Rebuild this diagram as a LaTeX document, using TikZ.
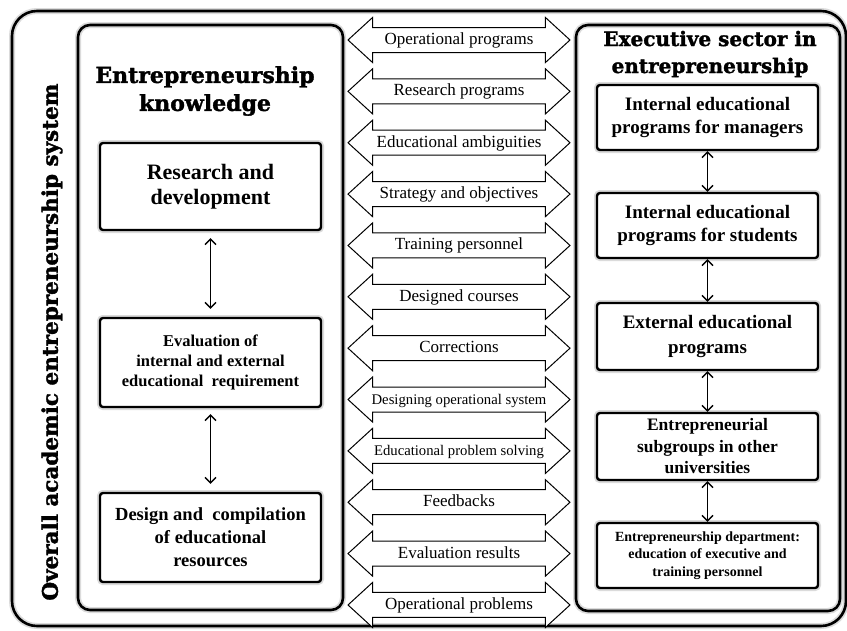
\documentclass[tikz,border=0pt]{standalone}
\usepackage{fontspec}
\setmainfont{Liberation Serif}
\newfontfamily\slabfont[BoldFeatures={FakeBold=1.6}]{DejaVu Serif}
\usetikzlibrary{arrows.meta,shapes.arrows}

\tikzset{
  frame/.style={draw=black, line width=2.6pt, rounded corners=#1,
    preaction={draw=black!14, line width=6pt}},
  stepbox/.style={draw=black, line width=2.4pt, rounded corners=3pt, fill=white,
    minimum width=221pt, align=center,
    preaction={draw=black!14, line width=6pt}},
  flow/.style={double arrow, draw=black, line width=1pt, fill=white,
    minimum height=222pt, double arrow head extend=10pt,
    double arrow tip angle=85, inner xsep=0pt, inner ysep=4.5pt,
    text height=12pt, text depth=3pt},
  link/.style={line width=1.4pt, {Straight Barb[length=5.5pt,width=11pt]}-{Straight Barb[length=5.5pt,width=11pt]}}
}

\begin{document}
\begin{tikzpicture}[x=1pt, y=-1pt]
    \useasboundingbox (0,0) rectangle (847,630);
    \fill[white] (0,0) rectangle (847,630);

    \draw[frame=25pt] (12,11) rectangle (846,626);
    \draw[frame=12pt] (78,25) rectangle (343,610);
    \draw[frame=12pt] (576,25) rectangle (840,611);

    \node[rotate=90, font=\slabfont\bfseries\fontsize{21.5}{24}\selectfont] (system) at (52,342)
        {Overall academic entrepreneurship system};

    \node[align=center, font=\slabfont\bfseries\fontsize{22}{28}\selectfont] (knowtitle) at (205,91)
        {Entrepreneurship\\knowledge};
    \node[align=center, font=\slabfont\bfseries\fontsize{20}{27}\selectfont] (exectitle) at (710,54)
        {Executive sector in\\entrepreneurship};

    \node[stepbox, minimum height=87pt, font=\bfseries\fontsize{22}{25}\selectfont] (research) at (210.5,186.5)
        {Research and\\development};
    \node[stepbox, minimum height=89pt, font=\bfseries\fontsize{16.5}{20}\selectfont] (evaluation) at (210.5,362.5)
        {Evaluation of\\internal and external\\educational\ \ requirement};
    \node[stepbox, minimum height=89pt, font=\bfseries\fontsize{18.5}{23}\selectfont] (design) at (210.5,537.5)
        {Design and\ \ compilation\\of educational\\resources};

    \draw[link, shorten <=7pt, shorten >=8pt] (research) -- (evaluation);
    \draw[link, shorten <=6pt, shorten >=8pt] (evaluation) -- (design);

    \node[stepbox, minimum height=65pt, font=\bfseries\fontsize{19}{23}\selectfont] (managers) at (707.5,117.5)
        {Internal educational\\programs for managers};
    \node[stepbox, minimum height=65pt, font=\bfseries\fontsize{19}{23}\selectfont] (students) at (707.5,225.5)
        {Internal educational\\programs for students};
    \node[stepbox, minimum height=67pt, font=\bfseries\fontsize{19}{25}\selectfont] (external) at (707.5,336.5)
        {External educational\\programs};
    \node[stepbox, minimum height=67pt, font=\bfseries\fontsize{17.5}{21.5}\selectfont] (subgroups) at (707.5,446.5)
        {Entrepreneurial\\subgroups in other\\universities};
    \node[stepbox, minimum height=65pt, font=\bfseries\fontsize{14}{17.5}\selectfont] (department) at (707.5,555.5)
        {Entrepreneurship department:\\education of executive and\\training personnel};

    \draw[link] (managers) -- (students);
    \draw[link] (students) -- (external);
    \draw[link] (external) -- (subgroups);
    \draw[link] (subgroups) -- (department);

    \foreach \lab/\fs [count=\i from 0] in {
        Operational programs/17, Research programs/17, Educational ambiguities/17,
        Strategy and objectives/17, Training personnel/17, Designed courses/17,
        Corrections/17, Designing operational system/14.7,
        Educational problem solving/14.7, Feedbacks/17, Evaluation results/17,
        Operational problems/17}
        \node[flow, font=\fontsize{\fs}{\fs}\selectfont] (flow\i) at (459,{40+51.36*\i}) {\lab};
\end{tikzpicture}
\end{document}
